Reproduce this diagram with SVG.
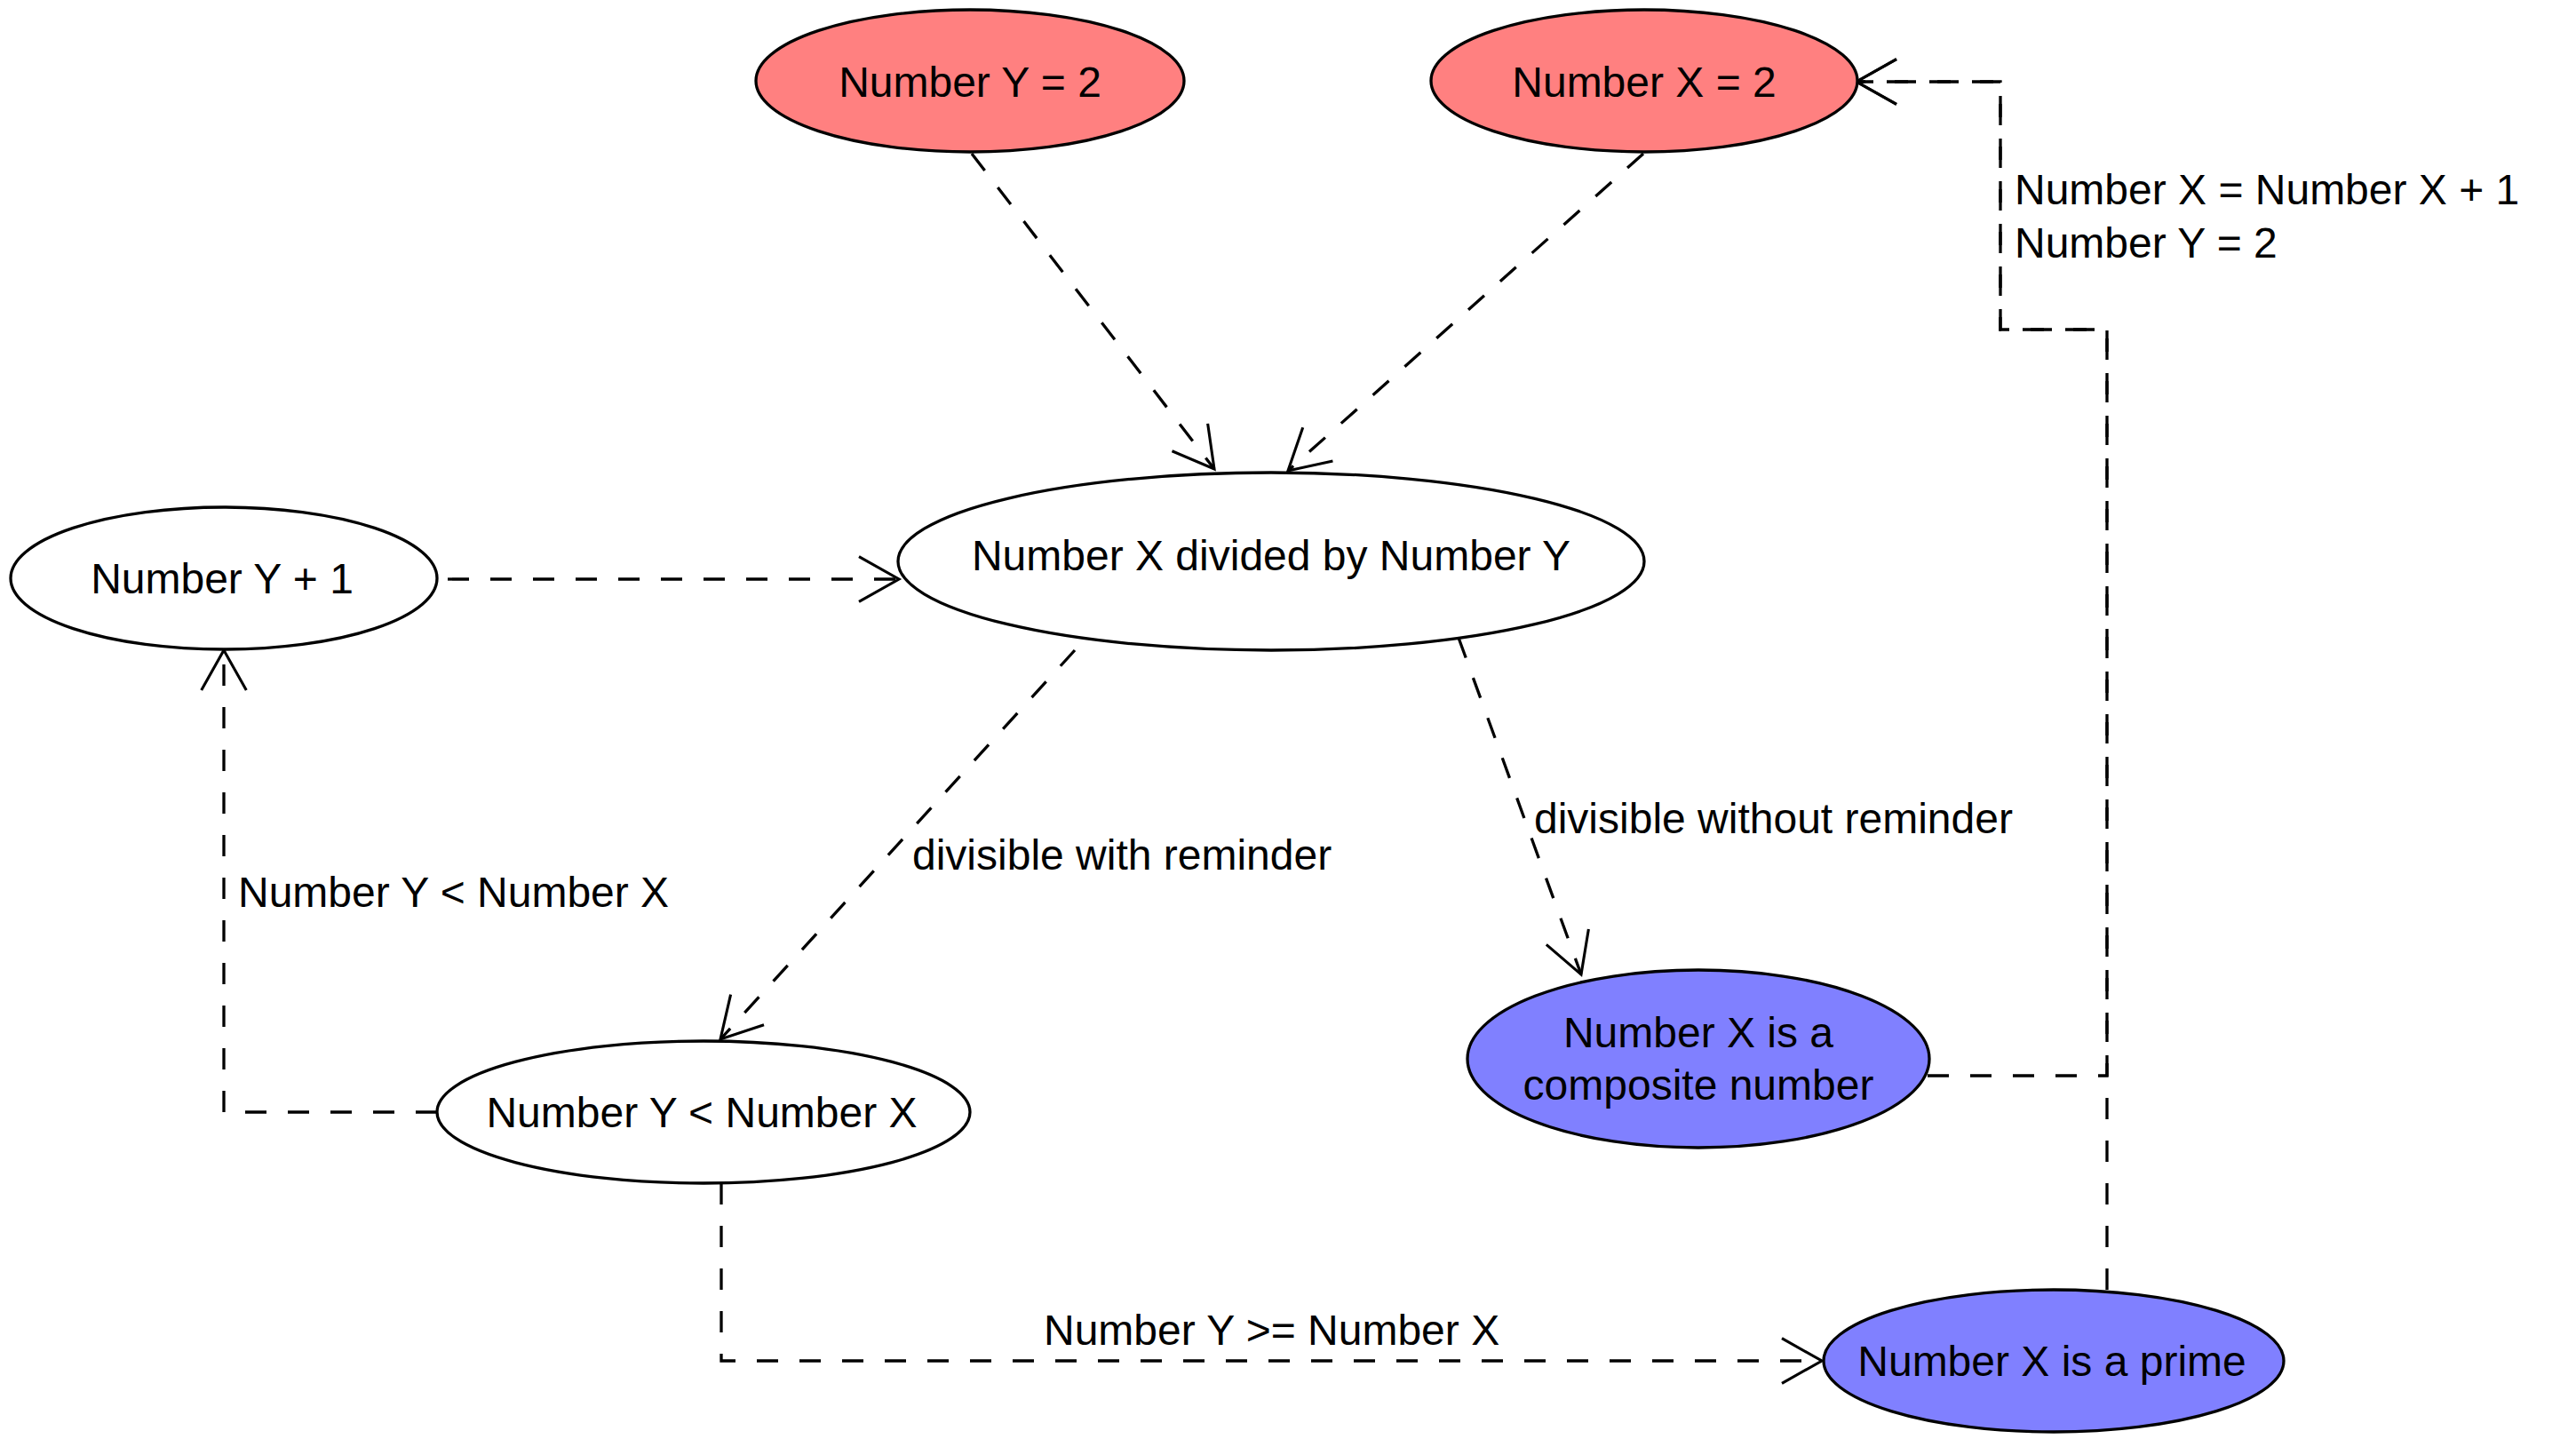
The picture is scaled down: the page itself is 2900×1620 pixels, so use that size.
<svg xmlns="http://www.w3.org/2000/svg" width="2900" height="1620" viewBox="0 0 2900 1620">
<style>
  .node { stroke: #000; stroke-width: 3.3; }
  .plain { fill: #ffffff; }
  .red { fill: #ff8080; }
  .blue { fill: #8080ff; }
  text { font-family: "Liberation Sans", Arial, sans-serif; font-size: 48px; fill: #000; }
  .c { text-anchor: middle; }
  .edge { fill: none; stroke: #000; stroke-width: 3.3; stroke-dasharray: 24 24; }
</style>
<defs>
  <marker id="arrow" markerUnits="userSpaceOnUse" markerWidth="60" markerHeight="60" viewBox="-55 -32 60 64" refX="0" refY="0" orient="auto" overflow="visible">
    <path d="M-48,-27 L0,0 L-48,27" fill="none" stroke="#000" stroke-width="3.3"/>
  </marker>
</defs>
<rect x="0" y="0" width="2900" height="1620" fill="#ffffff"/>

<g id="connectors">
  <path class="edge" d="M1094,173 L1367,528" marker-end="url(#arrow)"/>
  <path class="edge" d="M1850,173 L1450,530" marker-end="url(#arrow)"/>
  <path class="edge" d="M504,652 L1012,652" marker-end="url(#arrow)"/>
  <path class="edge" d="M1210,732 L811,1170" marker-end="url(#arrow)"/>
  <path class="edge" d="M1642,718 L1780,1097" marker-end="url(#arrow)"/>
  <path class="edge" d="M492,1252 L252,1252 L252,732" marker-end="url(#arrow)"/>
  <path class="edge" d="M812,1332 L812,1532 L2051,1532" marker-end="url(#arrow)"/>
  <path class="edge" d="M2170,1211 L2372,1211 L2372,371 L2252,371 L2252,92 L2090,92" marker-end="url(#arrow)"/>
  <path class="edge" d="M2372,1452 L2372,371 L2252,371 L2252,92 L2090,92" marker-end="url(#arrow)"/>
  <text x="1027" y="979">divisible with reminder</text>
  <text x="1727" y="938">divisible without reminder</text>
  <text x="268" y="1021">Number Y &lt; Number X</text>
  <text x="1175" y="1514">Number Y &gt;= Number X</text>
  <text x="2268" y="230">Number X = Number X + 1</text>
  <text x="2268" y="290">Number Y = 2</text>
</g>

<g id="node-y2">
  <ellipse class="node red" cx="1092" cy="91" rx="241" ry="80"/>
  <text class="c" x="1092" y="109">Number Y = 2</text>
</g>
<g id="node-x2">
  <ellipse class="node red" cx="1851" cy="91" rx="240" ry="80"/>
  <text class="c" x="1851" y="109">Number X = 2</text>
</g>
<g id="node-y-plus-1">
  <ellipse class="node plain" cx="252" cy="651" rx="240" ry="80"/>
  <text class="c" x="250" y="668">Number Y + 1</text>
</g>
<g id="node-divide">
  <ellipse class="node plain" cx="1431" cy="632" rx="420" ry="100"/>
  <text class="c" x="1431" y="642">Number X divided by Number Y</text>
</g>
<g id="node-y-lt-x">
  <ellipse class="node plain" cx="792" cy="1252" rx="300" ry="80"/>
  <text class="c" x="790" y="1269">Number Y &lt; Number X</text>
</g>
<g id="node-composite">
  <ellipse class="node blue" cx="1912" cy="1192" rx="260" ry="100"/>
  <text class="c" x="1912" y="1179">Number X is a</text>
  <text class="c" x="1912" y="1238">composite number</text>
</g>
<g id="node-prime">
  <ellipse class="node blue" cx="2312" cy="1532" rx="259" ry="80"/>
  <text class="c" x="2310" y="1549">Number X is a prime</text>
</g>
</svg>
